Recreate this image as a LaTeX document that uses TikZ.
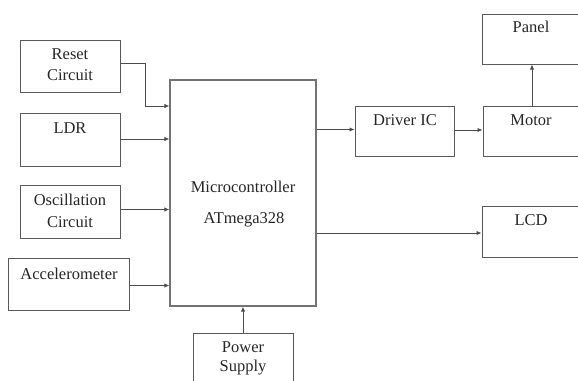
\documentclass[tikz,border=0pt]{standalone}
\usepackage{fontspec}
\setmainfont{Liberation Serif}
\usetikzlibrary{arrows.meta}
\begin{document}
\begin{tikzpicture}[x=1pt,y=-1pt,
  box/.style={draw=black!65,line width=1pt,inner sep=0pt},
  lbl/.style={inner sep=0pt,font=\fontsize{16.5}{19}\selectfont,text=black!85},
  conn/.style={draw=black!70,line width=0.9pt,-{Latex[length=5pt,width=4.5pt]}}]
\useasboundingbox (0,0) rectangle (578,380);
\clip (0,0) rectangle (578,380);
% boxes
\node[box,minimum width=100pt,minimum height=52pt] (reset) at (70,66) {};
\node[box,minimum width=100pt,minimum height=53pt] (ldr) at (70,139.5) {};
\node[box,minimum width=100pt,minimum height=53pt] (osc) at (70,211.5) {};
\node[box,minimum width=121pt,minimum height=52pt] (acc) at (68.5,284) {};
\node[box,draw=black!55,line width=1.3pt,minimum width=146pt,minimum height=226pt] (mcu) at (243,193) {};
\node[box,minimum width=100pt,minimum height=60pt] (power) at (243,363) {};
\node[box,minimum width=99pt,minimum height=50pt] (driver) at (404.5,131) {};
\node[box,minimum width=110pt,minimum height=50pt] (motor) at (538,131) {};
\node[box,minimum width=110pt,minimum height=50pt] (panel) at (537,39) {};
\node[box,minimum width=110pt,minimum height=51pt] (lcd) at (537,231.5) {};
% labels
\node[lbl] (tReset) at (70,54) {Reset};
\node[lbl] (tResetb) at (70,75) {Circuit};
\node[lbl] (tLdr) at (70,128) {LDR};
\node[lbl] (tOsc) at (70,200) {Oscillation};
\node[lbl] (tOscb) at (70,222) {Circuit};
\node[lbl] (tAcc) at (69,274) {Accelerometer};
\node[lbl] (tMcu) at (243,187) {Microcontroller};
\node[lbl] (tMcub) at (244,220) {ATmega328};
\node[lbl] (tPow) at (243,347) {Power};
\node[lbl] (tPowb) at (243,368) {Supply};
\node[lbl] (tDrv) at (405,120) {Driver IC};
\node[lbl] (tMot) at (531,120) {Motor};
\node[lbl] (tPan) at (531,27) {Panel};
\node[lbl] (tLcd) at (531,220) {LCD};
% connectors
\coordinate (rj1) at (145,63);
\coordinate (rj2) at (145,106);
\draw[conn] (reset.east |- rj1) -- (rj1) -- (rj2) -- (mcu.west |- rj2);
\draw[conn] (ldr.east |- 0,139) -- (mcu.west |- 0,139);
\draw[conn] (osc.east |- 0,209.5) -- (mcu.west |- 0,209.5);
\draw[conn] (acc.east |- 0,285.5) -- (mcu.west |- 0,285.5);
\draw[conn] (power.north |- power.north) -- (power.north |- mcu.south);
\draw[conn] (mcu.east |- 0,129.5) -- (driver.west |- 0,129.5);
\draw[conn] (driver.east |- 0,130) -- (motor.west |- 0,130);
\draw[conn] (motor.north -| 532,0) -- (panel.south -| 532,0);
\draw[conn] (mcu.east |- 0,233) -- (lcd.west |- 0,233);
\end{tikzpicture}
\end{document}
